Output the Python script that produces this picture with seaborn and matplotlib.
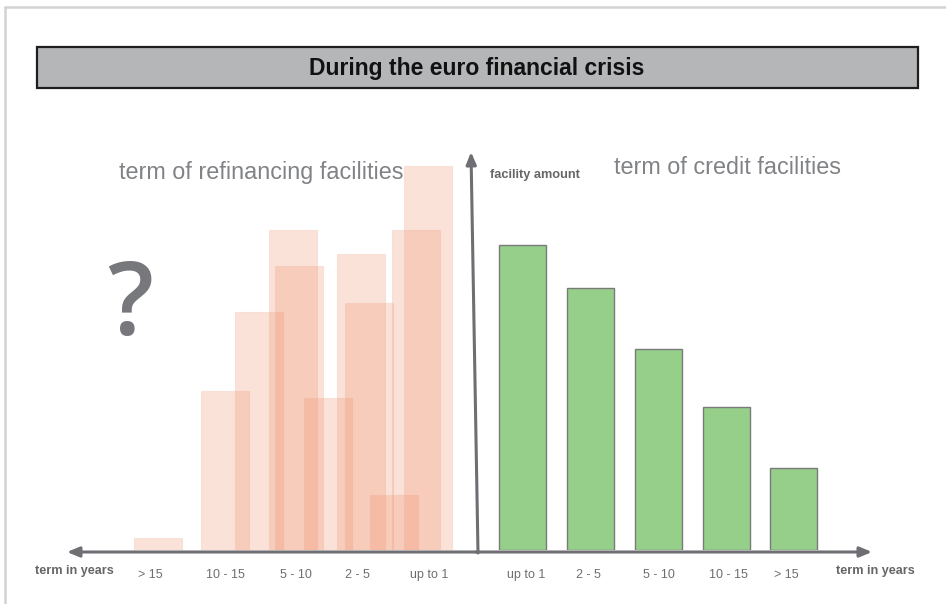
import matplotlib
matplotlib.use("Agg")
import matplotlib.pyplot as plt
from matplotlib.patches import Rectangle
import seaborn as sns
import pandas as pd

# ---- data -------------------------------------------------------------
# credit facilities (right side), one bar per maturity bucket
credit_terms = ["up to 1", "2 - 5", "5 - 10", "10 - 15", "> 15"]
credit_pos = [0.69, 1.69, 2.69, 3.69, 4.67]
credit_amount = [100, 86, 66, 47, 27]

# possible refinancing distributions (left side), overlapping translucent bars
refi_pos = [-4.68, -3.69, -3.19, -2.69, -2.60, -2.18, -1.69, -1.57, -1.20, -0.88, -0.70]
refi_amount = [4, 52, 78, 105, 93, 50, 97, 81, 18, 105, 126]

# maturity labels on the left (mirrored order)
refi_terms = ["> 15", "10 - 15", "5 - 10", "2 - 5", "up to 1"]
refi_label_pos = [-4.79, -3.68, -2.65, -1.75, -0.69]
credit_label_pos = [0.735, 1.66, 2.69, 3.71, 4.57]

# ---- style ------------------------------------------------------------
sns.set_theme(style="white")
plt.rcParams["font.family"] = ["Liberation Sans", "DejaVu Sans"]

W, H = 946, 604
fig = plt.figure(figsize=(W / 100, H / 100), dpi=100)
fig.patch.set_facecolor("white")

# axes: x in bucket units (68 px), y in amount units (3.05 px)
PX_X, PX_Y = 68.0, 3.05
X0, Y0 = 476.0, 550.0
ax_top = 100.0
ax = fig.add_axes([0, (H - Y0) / H, 1, (Y0 - ax_top) / H])
ax.set_xlim(-X0 / PX_X, (W - X0) / PX_X)
ax.set_ylim(0, (Y0 - ax_top) / PX_Y)
ax.patch.set_alpha(0)
for s in ax.spines.values():
    s.set_visible(False)
ax.set_yticks([])

def px(x, y):
    """pixel position -> data coordinates"""
    return ((x - X0) / PX_X, (Y0 - y) / PX_Y)

# refinancing fan
ax.bar(refi_pos, refi_amount, width=0.706, color="#f08c64", alpha=0.25,
       edgecolor="#eeb39a", linewidth=0.8, zorder=2)

# credit facilities
credit_df = pd.DataFrame({"pos": credit_pos, "amount": credit_amount, "term": credit_terms})
sns.barplot(data=credit_df, x="pos", y="amount", native_scale=True, width=0.706,
            color="#95cf8a", saturation=1, edgecolor="#7a7a7a", linewidth=1.0,
            ax=ax, zorder=3)
ax.set_xlabel("")
ax.set_ylabel("")

# tick labels for both halves
ax.set_xticks(refi_label_pos + credit_label_pos)
ax.set_xticklabels(refi_terms + credit_terms, fontsize=9, color="#6e6e6e")
ax.tick_params(axis="x", length=0, pad=14)
ax.set_xlim(-X0 / PX_X, (W - X0) / PX_X)

# axes arrows
axis_col = "#6f6f73"
arrow_kw = dict(arrowstyle="-|>,head_length=0.6,head_width=0.25", color=axis_col,
                lw=2.2, shrinkA=0, shrinkB=0)
ax.annotate("", xy=px(67, 552), xytext=px(476, 552), arrowprops=arrow_kw,
            annotation_clip=False, zorder=5)
ax.annotate("", xy=px(872, 552), xytext=px(476, 552), arrowprops=arrow_kw,
            annotation_clip=False, zorder=5)
ax.annotate("", xy=px(471, 152), xytext=px(478, 553), arrowprops=arrow_kw,
            annotation_clip=False, zorder=5)

# ---- texts ------------------------------------------------------------
def ftext(x, y, s, **kw):
    fig.text(x / W, 1 - y / H, s, **kw)

ftext(74, 571, "term in years", fontsize=9.1, fontweight="bold", color="#666666",
      ha="center", va="center")
ftext(875, 571, "term in years", fontsize=9.1, fontweight="bold", color="#666666",
      ha="center", va="center")
ftext(490, 175, "facility amount", fontsize=9.2, fontweight="bold", color="#666666",
      ha="left", va="center")
ftext(261, 172, "term of refinancing facilities", fontsize=16.8, color="#808285",
      ha="center", va="center")
ftext(727, 168, "term of credit facilities", fontsize=16.8, color="#808285",
      ha="center", va="center")
fig.text(130 / W, 1 - 308 / H, "?", fontsize=73, color="#77787b", fontweight="semibold",
         family=["Open Sans", "DejaVu Sans"], ha="center", va="center")

# header box
fig.patches.append(Rectangle((37 / W, 1 - 88 / H), (918 - 37) / W, 41 / H,
                             transform=fig.transFigure, facecolor="#b4b6b8",
                             edgecolor="#1e1e1e", linewidth=1.6, zorder=1))
ftext(477, 68, "During the euro financial crisis", fontsize=16.5, fontweight="bold",
      color="#111111", ha="center", va="center", zorder=2)

# light page frame (top and left)
fig.lines.append(plt.Line2D([5 / W, 5 / W], [0, 1 - 6.5 / H], transform=fig.transFigure,
                            color="#d2d2d2", lw=1.8))
fig.lines.append(plt.Line2D([5 / W, 1], [1 - 6.5 / H, 1 - 6.5 / H], transform=fig.transFigure,
                            color="#d2d2d2", lw=1.8))

fig.savefig("out.png", dpi=100)
